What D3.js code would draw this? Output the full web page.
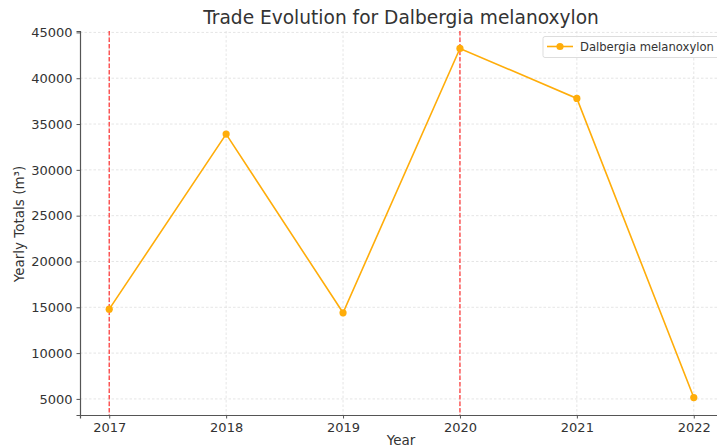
<!DOCTYPE html>
<html>
<head>
<meta charset="utf-8">
<script src="https://cdn.jsdelivr.net/npm/d3@7"></script>
<style>
  body { margin: 0; background: #fff; overflow: hidden; }
  svg { display: block; font-family: "DejaVu Sans", sans-serif; }
</style>
</head>
<body>
<svg id="chart" width="717" height="448"></svg>
<script>
// data
var years = [2017, 2018, 2019, 2020, 2021, 2022];
var totals = [14800, 33900, 14400, 43250, 37800, 5150];
var markedYears = [2017, 2020];
var yTicks = [5000, 10000, 15000, 20000, 25000, 30000, 35000, 40000, 45000];
var seriesName = "Dalbergia melanoxylon";

var margin = {top: 31, right: -6, bottom: 33, left: 80},
    width = 717 - margin.left - margin.right,
    height = 448 - margin.top - margin.bottom;

var svg = d3.select("#chart")
    .append("g")
    .attr("transform", "translate(" + margin.left + "," + margin.top + ")");

// scales (matplotlib style 5% padding)
var x = d3.scaleLinear()
    .domain([2016.75, 2022.25])
    .range([0, width]);
var yMin = d3.min(totals), yMax = d3.max(totals), pad = (yMax - yMin) * 0.05;
var y = d3.scaleLinear()
    .domain([yMin - pad, yMax + pad])
    .range([height, 0]);

// grid
svg.append("g").selectAll("line").data(years).enter().append("line")
    .attr("x1", d => x(d)).attr("x2", d => x(d))
    .attr("y1", 0).attr("y2", height)
    .attr("stroke", "#dadada").attr("stroke-width", 0.7)
    .attr("stroke-dasharray", "2.5,2");
svg.append("g").selectAll("line").data(yTicks).enter().append("line")
    .attr("x1", 0).attr("x2", width)
    .attr("y1", d => y(d)).attr("y2", d => y(d))
    .attr("stroke", "#dadada").attr("stroke-width", 0.7)
    .attr("stroke-dasharray", "2.5,2");

// red markers
svg.append("g").selectAll("line").data(markedYears).enter().append("line")
    .attr("x1", d => x(d)).attr("x2", d => x(d))
    .attr("y1", 0).attr("y2", height)
    .attr("stroke", "#ff2020").attr("stroke-opacity", 0.85).attr("stroke-width", 1.3)
    .attr("stroke-dasharray", "4.5,2");

// axes
var xAxis = svg.append("g")
    .attr("transform", "translate(0," + height + ")")
    .call(d3.axisBottom(x).tickValues(years).tickFormat(d3.format("d")).tickSizeOuter(0).tickSize(3.5).tickPadding(4));
var yAxis = svg.append("g")
    .call(d3.axisLeft(y).tickValues(yTicks).tickFormat(d3.format("d")).tickSizeOuter(0).tickSize(3.5).tickPadding(4));
[xAxis, yAxis].forEach(function(a) {
    a.attr("font-size", 13).attr("font-family", "DejaVu Sans");
    a.select(".domain").attr("stroke", "#555").attr("stroke-width", 1.2);
    a.selectAll(".tick line").attr("stroke", "#555");
    a.selectAll(".tick text").attr("fill", "#333");
});

// line + points
var pts = years.map((d, i) => ({year: d, value: totals[i]}));
svg.append("path")
    .datum(pts)
    .attr("fill", "none")
    .attr("stroke", "#ffad0a")
    .attr("stroke-width", 1.6)
    .attr("d", d3.line().x(d => x(d.year)).y(d => y(d.value)));
svg.selectAll(".pt").data(pts).enter().append("circle")
    .attr("class", "pt")
    .attr("cx", d => x(d.year)).attr("cy", d => y(d.value))
    .attr("r", 3.6).attr("fill", "#ffad0a");

// title
svg.append("text")
    .attr("x", 401 - margin.left).attr("y", 24 - margin.top)
    .style("text-anchor", "middle")
    .style("font-size", "18.6px")
    .attr("fill", "#333")
    .text("Trade Evolution for Dalbergia melanoxylon");

// axis labels
svg.append("text")
    .attr("x", 401 - margin.left).attr("y", 445 - margin.top)
    .style("text-anchor", "middle")
    .style("font-size", "13.5px")
    .attr("fill", "#333")
    .text("Year");
svg.append("text")
    .attr("transform", "rotate(-90)")
    .attr("x", -(224 - margin.top)).attr("y", 24 - margin.left)
    .style("text-anchor", "middle")
    .style("font-size", "13.5px")
    .attr("fill", "#333")
    .text("Yearly Totals (m³)");

// legend
var lg = svg.append("g").attr("transform", "translate(" + (543 - margin.left) + "," + (36.5 - margin.top) + ")");
lg.append("rect")
    .attr("width", 180).attr("height", 21).attr("rx", 2)
    .attr("fill", "#fff").attr("fill-opacity", 0.8)
    .attr("stroke", "#ddd");
lg.append("line")
    .attr("x1", 4).attr("x2", 30).attr("y1", 10).attr("y2", 10)
    .attr("stroke", "#ffad0a").attr("stroke-width", 1.6);
lg.append("circle").attr("cx", 17).attr("cy", 10).attr("r", 3.6).attr("fill", "#ffad0a");
lg.append("text")
    .attr("x", 37).attr("y", 14)
    .style("font-size", "11.6px")
    .attr("fill", "#333")
    .text(seriesName);
</script>
</body>
</html>
